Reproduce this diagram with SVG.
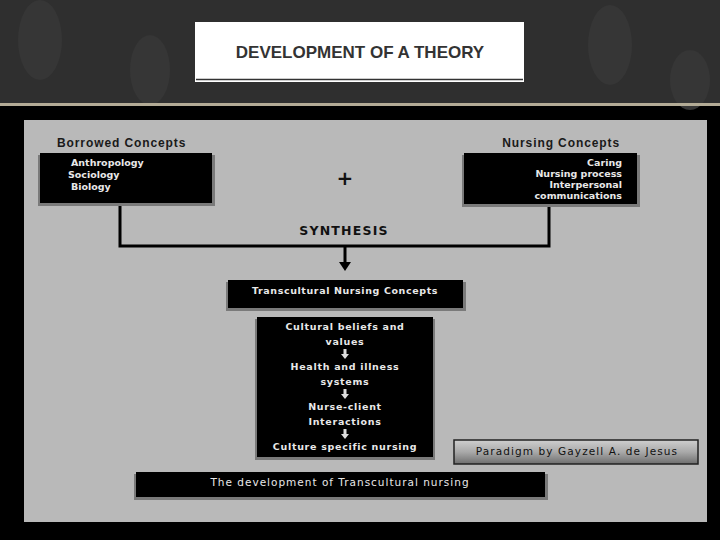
<svg xmlns="http://www.w3.org/2000/svg" width="720" height="540" viewBox="0 0 720 540">
<defs>
<style>
.lbl{font-family:"Liberation Sans",Arial,sans-serif;font-weight:bold;fill:#1a1a1a;font-size:12px;letter-spacing:0.9px}
.wt{font-family:"DejaVu Sans","Liberation Sans",sans-serif;font-weight:bold;fill:#e8e8e8;font-size:9.5px}
.wn{font-family:"DejaVu Sans","Liberation Sans",sans-serif;fill:#e8e8e8;font-size:10.5px;letter-spacing:1px}
.box{fill:#000}
.sh{fill:#7a7a7a}
.ln{stroke:#000;stroke-width:3;fill:none}
</style>
<linearGradient id="pg" x1="0" y1="0" x2="0" y2="1">
<stop offset="0" stop-color="#cfcfcf"/>
<stop offset="0.5" stop-color="#a9a9a9"/>
<stop offset="1" stop-color="#6e6e6e"/>
</linearGradient>
</defs>
<rect x="0" y="0" width="720" height="540" fill="#000"/>
<rect x="0" y="0" width="720" height="103" fill="#2f2f2f"/>
<g fill="#363636">
<ellipse cx="40" cy="40" rx="22" ry="40"/>
<ellipse cx="150" cy="70" rx="20" ry="35"/>
<ellipse cx="610" cy="45" rx="22" ry="40"/>
<ellipse cx="690" cy="80" rx="20" ry="30"/>
</g>
<rect x="0" y="103" width="720" height="3" fill="#b3ab96"/>
<g id="title">
<rect x="195" y="22" width="329" height="60" fill="#fff"/>
<line x1="196" y1="79.5" x2="523" y2="79.5" stroke="#333" stroke-width="1.5"/>
<text x="360" y="58" text-anchor="middle" font-family="'Liberation Sans',Arial,sans-serif" font-weight="bold" font-size="17" fill="#333">DEVELOPMENT OF A THEORY</text>
</g>
<rect x="24" y="120" width="683" height="402" fill="#b9b9b9"/>
<g id="connectors">
<polyline class="ln" points="120,204 120,246 549,246 549,205"/>
<line class="ln" x1="345" y1="246" x2="345" y2="263"/>
<path d="M339,262 L351,262 L345,271 z" fill="#000"/>
</g>
<g id="borrowed">
<text class="lbl" x="57" y="147">Borrowed Concepts</text>
<rect class="sh" x="38" y="155" width="177" height="51"/>
<rect class="box" x="40" y="153" width="172" height="50"/>
<text class="wt" x="71" y="166">Anthropology</text>
<text class="wt" x="68" y="178">Sociology</text>
<text class="wt" x="71" y="190">Biology</text>
</g>
<g id="nursing">
<text class="lbl" x="620" y="147" text-anchor="end">Nursing  Concepts</text>
<rect class="sh" x="462" y="155" width="178" height="52"/>
<rect class="box" x="464" y="153" width="173" height="51"/>
<text class="wt" x="622" y="166" text-anchor="end">Caring</text>
<text class="wt" x="622" y="177" text-anchor="end">Nursing process</text>
<text class="wt" x="622" y="188" text-anchor="end">Interpersonal</text>
<text class="wt" x="622" y="199" text-anchor="end">communications</text>
</g>
<g id="plus">
<text x="345" y="185" text-anchor="middle" font-family="'DejaVu Sans',sans-serif" font-weight="bold" font-size="20" fill="#111">+</text>
</g>
<g id="synthesis">
<text x="344" y="235" text-anchor="middle" font-family="'DejaVu Sans',sans-serif" font-weight="bold" font-size="12.5" letter-spacing="1.2" fill="#111">SYNTHESIS</text>
</g>
<g id="tnc">
<rect class="sh" x="226" y="282" width="240" height="29"/>
<rect class="box" x="228" y="280" width="235" height="28"/>
<text class="wt" x="345" y="294" text-anchor="middle" font-size="11" letter-spacing="0.6">Transcultural Nursing Concepts</text>
</g>
<g id="chain">
<rect class="sh" x="255" y="319" width="180" height="141"/>
<rect class="box" x="257" y="317" width="176" height="140"/>
<g class="wt" text-anchor="middle" font-size="11" letter-spacing="0.7">
<text x="345" y="330">Cultural beliefs and</text>
<text x="345" y="345">values</text>
<text x="345" y="370">Health and illness</text>
<text x="345" y="385">systems</text>
<text x="345" y="410">Nurse-client</text>
<text x="345" y="425">Interactions</text>
<text x="345" y="450">Culture  specific nursing</text>
</g>
<g fill="#ddd">
<rect x="343.5" y="349" width="3" height="5"/><path d="M341,354 L349,354 L345,359 z"/>
<rect x="343.5" y="389" width="3" height="5"/><path d="M341,394 L349,394 L345,399 z"/>
<rect x="343.5" y="429" width="3" height="5"/><path d="M341,434 L349,434 L345,439 z"/>
</g>
</g>
<g id="paradigm">
<rect x="454" y="440" width="244" height="24" fill="url(#pg)" stroke="#222" stroke-width="1.5"/>
<text x="577" y="455" text-anchor="middle" font-family="'DejaVu Sans',sans-serif" font-size="10.5" letter-spacing="1.1" fill="#111">Paradigm by Gayzell A. de Jesus</text>
</g>
<g id="bottom">
<rect class="sh" x="134" y="474" width="414" height="26"/>
<rect class="box" x="136" y="472" width="409" height="25"/>
<text class="wn" x="340" y="486" text-anchor="middle">The development of Transcultural nursing</text>
</g>
</svg>
